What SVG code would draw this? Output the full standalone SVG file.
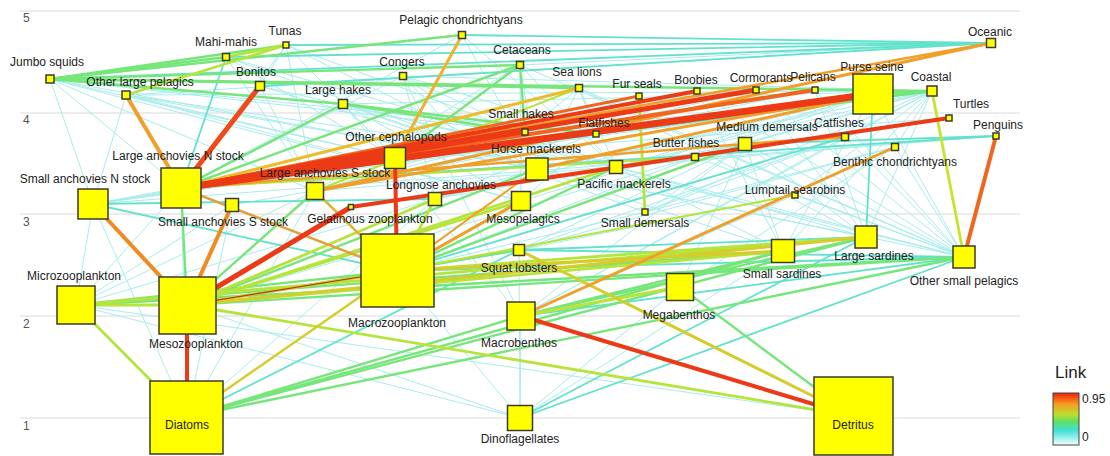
<svg xmlns="http://www.w3.org/2000/svg" width="1110" height="456" viewBox="0 0 1110 456">
<defs>
<linearGradient id="lg" x1="0" y1="0" x2="0" y2="1">
<stop offset="0" stop-color="#ee2010"/>
<stop offset="0.22" stop-color="#f6a020"/>
<stop offset="0.42" stop-color="#b8e030"/>
<stop offset="0.55" stop-color="#60e060"/>
<stop offset="0.72" stop-color="#40e0d8"/>
<stop offset="1" stop-color="#f4ffff"/>
</linearGradient>
<style>
.grid{stroke:#d9d9d9;stroke-width:1}
.ax{font-family:"Liberation Sans",Arial,sans-serif;font-size:12px;fill:#555}
#connectors line{stroke-linecap:round;fill:none}
.t{stroke:#a8ecec;stroke-width:1}
.a{stroke:#62e2cc;stroke-width:1.8}
.g{stroke:#76e67a;stroke-width:2.4}
.yg{stroke:#b6e43a;stroke-width:2.8}
.y{stroke:#d6cc2c;stroke-width:3}
.o{stroke:#f0a028;stroke-width:3}
.or{stroke:#f0661e;stroke-width:4}
.r{stroke:#ec3a16;stroke-width:5}
.n rect{fill:#ffff00;stroke:#3a3a2a;stroke-width:1.5}
.n text{font-family:"Liberation Sans",Arial,sans-serif;font-size:12px;fill:#222;text-anchor:middle}
</style>
</defs>
<rect width="1110" height="456" fill="#ffffff"/>
<g id="axis">
<line class="grid" x1="20" y1="11" x2="1020" y2="11"/>
<line class="grid" x1="20" y1="113" x2="1020" y2="113"/>
<line class="grid" x1="20" y1="214" x2="1020" y2="214"/>
<line class="grid" x1="20" y1="316" x2="1020" y2="316"/>
<line class="grid" x1="20" y1="418" x2="1020" y2="418"/>
<text class="ax" x="23" y="22">5</text>
<text class="ax" x="23" y="124">4</text>
<text class="ax" x="23" y="226">3</text>
<text class="ax" x="23" y="328">2</text>
<text class="ax" x="23" y="430">1</text>
</g>
<g id="connectors">
<g class="t">
<line x1="50" y1="79" x2="395" y2="158"/><line x1="50" y1="79" x2="181" y2="188"/><line x1="50" y1="79" x2="93" y2="204"/><line x1="50" y1="79" x2="315" y2="191"/><line x1="50" y1="79" x2="537" y2="169"/><line x1="50" y1="79" x2="521" y2="201"/><line x1="50" y1="79" x2="525" y2="132"/><line x1="50" y1="79" x2="596" y2="134"/>
<line x1="126" y1="95" x2="395" y2="158"/><line x1="126" y1="95" x2="537" y2="169"/><line x1="126" y1="95" x2="521" y2="201"/><line x1="126" y1="95" x2="616" y2="167"/><line x1="126" y1="95" x2="93" y2="204"/>
<line x1="226" y1="57" x2="395" y2="158"/><line x1="226" y1="57" x2="537" y2="169"/><line x1="226" y1="57" x2="616" y2="167"/><line x1="226" y1="57" x2="315" y2="191"/>
<line x1="286" y1="45" x2="181" y2="188"/><line x1="286" y1="45" x2="395" y2="158"/><line x1="286" y1="45" x2="537" y2="169"/><line x1="286" y1="45" x2="616" y2="167"/><line x1="286" y1="45" x2="315" y2="191"/><line x1="286" y1="45" x2="260" y2="86"/>
<line x1="260" y1="86" x2="315" y2="191"/><line x1="260" y1="86" x2="537" y2="169"/><line x1="260" y1="86" x2="616" y2="167"/>
<line x1="343" y1="104" x2="537" y2="169"/><line x1="343" y1="104" x2="521" y2="201"/><line x1="343" y1="104" x2="435" y2="199"/><line x1="343" y1="104" x2="645" y2="212"/><line x1="343" y1="104" x2="521" y2="316"/>
<line x1="403" y1="76" x2="525" y2="132"/><line x1="403" y1="76" x2="181" y2="188"/><line x1="403" y1="76" x2="521" y2="201"/><line x1="403" y1="76" x2="435" y2="199"/><line x1="403" y1="76" x2="596" y2="134"/><line x1="403" y1="76" x2="537" y2="169"/><line x1="403" y1="76" x2="521" y2="316"/>
<line x1="462" y1="35" x2="181" y2="188"/><line x1="462" y1="35" x2="537" y2="169"/><line x1="462" y1="35" x2="616" y2="167"/>
<line x1="520" y1="65" x2="537" y2="169"/><line x1="520" y1="65" x2="521" y2="201"/><line x1="520" y1="65" x2="616" y2="167"/><line x1="520" y1="65" x2="315" y2="191"/>
<line x1="579" y1="88" x2="537" y2="169"/><line x1="579" y1="88" x2="525" y2="132"/><line x1="579" y1="88" x2="616" y2="167"/><line x1="579" y1="88" x2="315" y2="191"/><line x1="579" y1="88" x2="596" y2="134"/>
<line x1="639" y1="96" x2="521" y2="201"/><line x1="639" y1="96" x2="315" y2="191"/>
<line x1="697" y1="91" x2="315" y2="191"/><line x1="697" y1="91" x2="435" y2="199"/><line x1="697" y1="91" x2="93" y2="204"/>
<line x1="756" y1="90" x2="315" y2="191"/><line x1="756" y1="90" x2="93" y2="204"/><line x1="756" y1="90" x2="525" y2="132"/>
<line x1="815" y1="90" x2="315" y2="191"/><line x1="815" y1="90" x2="93" y2="204"/>
<line x1="873" y1="94" x2="93" y2="204"/><line x1="873" y1="94" x2="232" y2="205"/><line x1="873" y1="94" x2="616" y2="167"/><line x1="873" y1="94" x2="783" y2="251"/><line x1="873" y1="94" x2="964" y2="257"/><line x1="873" y1="94" x2="521" y2="201"/><line x1="873" y1="94" x2="435" y2="199"/><line x1="873" y1="94" x2="695" y2="157"/>
<line x1="991" y1="43" x2="126" y2="95"/><line x1="991" y1="43" x2="520" y2="65"/>
<line x1="932" y1="91" x2="343" y2="104"/><line x1="932" y1="91" x2="537" y2="169"/><line x1="932" y1="91" x2="616" y2="167"/><line x1="932" y1="91" x2="596" y2="134"/><line x1="932" y1="91" x2="845" y2="137"/><line x1="932" y1="91" x2="745" y2="144"/><line x1="932" y1="91" x2="695" y2="157"/><line x1="932" y1="91" x2="866" y2="237"/><line x1="932" y1="91" x2="783" y2="251"/><line x1="932" y1="91" x2="525" y2="132"/><line x1="932" y1="91" x2="895" y2="147"/><line x1="932" y1="91" x2="795" y2="195"/><line x1="932" y1="91" x2="93" y2="204"/><line x1="932" y1="91" x2="126" y2="95"/><line x1="932" y1="91" x2="403" y2="76"/><line x1="932" y1="91" x2="645" y2="212"/><line x1="932" y1="91" x2="521" y2="316"/>
<line x1="949" y1="118" x2="395" y2="158"/><line x1="996" y1="136" x2="315" y2="191"/><line x1="996" y1="136" x2="93" y2="204"/>
<line x1="745" y1="144" x2="645" y2="212"/><line x1="745" y1="144" x2="521" y2="316"/><line x1="745" y1="144" x2="435" y2="199"/><line x1="745" y1="144" x2="680" y2="287"/><line x1="745" y1="144" x2="519" y2="250"/>
<line x1="845" y1="137" x2="521" y2="316"/><line x1="845" y1="137" x2="519" y2="250"/><line x1="845" y1="137" x2="645" y2="212"/>
<line x1="695" y1="157" x2="397" y2="271"/><line x1="695" y1="157" x2="187" y2="305"/><line x1="537" y1="169" x2="76" y2="305"/>
<line x1="895" y1="147" x2="680" y2="287"/><line x1="895" y1="147" x2="519" y2="250"/><line x1="895" y1="147" x2="645" y2="212"/>
<line x1="181" y1="188" x2="76" y2="305"/><line x1="181" y1="188" x2="187" y2="417"/><line x1="93" y1="204" x2="76" y2="305"/><line x1="93" y1="204" x2="187" y2="417"/>
<line x1="315" y1="191" x2="76" y2="305"/><line x1="315" y1="191" x2="187" y2="417"/><line x1="232" y1="205" x2="76" y2="305"/><line x1="232" y1="205" x2="187" y2="417"/>
<line x1="435" y1="199" x2="187" y2="417"/><line x1="521" y1="201" x2="187" y2="305"/><line x1="616" y1="167" x2="187" y2="305"/><line x1="645" y1="212" x2="397" y2="271"/>
<line x1="795" y1="195" x2="521" y2="316"/><line x1="795" y1="195" x2="519" y2="250"/>
<line x1="519" y1="250" x2="520" y2="418"/><line x1="783" y1="251" x2="520" y2="418"/><line x1="783" y1="251" x2="76" y2="305"/><line x1="866" y1="237" x2="76" y2="305"/>
<line x1="964" y1="257" x2="187" y2="417"/><line x1="76" y1="305" x2="520" y2="418"/><line x1="187" y1="305" x2="520" y2="418"/><line x1="397" y1="271" x2="520" y2="418"/><line x1="397" y1="271" x2="187" y2="417"/>
<line x1="680" y1="287" x2="187" y2="417"/><line x1="680" y1="287" x2="520" y2="418"/><line x1="521" y1="316" x2="520" y2="418"/><line x1="521" y1="316" x2="187" y2="417"/>
<line x1="76" y1="305" x2="853" y2="416"/>
<line x1="964" y1="257" x2="745" y2="144"/><line x1="964" y1="257" x2="845" y2="137"/><line x1="964" y1="257" x2="537" y2="169"/><line x1="964" y1="257" x2="343" y2="104"/><line x1="964" y1="257" x2="520" y2="65"/><line x1="964" y1="257" x2="579" y2="88"/><line x1="964" y1="257" x2="697" y2="91"/><line x1="964" y1="257" x2="756" y2="90"/><line x1="964" y1="257" x2="815" y2="90"/><line x1="964" y1="257" x2="895" y2="147"/><line x1="964" y1="257" x2="695" y2="157"/><line x1="964" y1="257" x2="616" y2="167"/><line x1="964" y1="257" x2="795" y2="195"/>
<line x1="866" y1="237" x2="745" y2="144"/><line x1="866" y1="237" x2="537" y2="169"/><line x1="866" y1="237" x2="579" y2="88"/><line x1="866" y1="237" x2="756" y2="90"/><line x1="866" y1="237" x2="815" y2="90"/><line x1="866" y1="237" x2="616" y2="167"/>
<line x1="783" y1="251" x2="745" y2="144"/><line x1="783" y1="251" x2="537" y2="169"/><line x1="783" y1="251" x2="697" y2="91"/><line x1="783" y1="251" x2="616" y2="167"/>
</g>
<g class="a">
<line x1="991" y1="43" x2="286" y2="45"/><line x1="991" y1="43" x2="226" y2="57"/><line x1="991" y1="43" x2="462" y2="35"/><line x1="991" y1="43" x2="50" y2="79"/><line x1="991" y1="43" x2="260" y2="86"/>
<line x1="996" y1="136" x2="181" y2="188"/><line x1="520" y1="418" x2="964" y2="257"/><line x1="520" y1="418" x2="866" y2="237"/>
<line x1="187" y1="417" x2="519" y2="250"/><line x1="397" y1="271" x2="964" y2="257"/><line x1="397" y1="271" x2="519" y2="250"/>
<line x1="873" y1="94" x2="866" y2="237"/><line x1="964" y1="257" x2="76" y2="305"/><line x1="93" y1="204" x2="397" y2="271"/><line x1="93" y1="204" x2="435" y2="199"/>
<line x1="845" y1="137" x2="397" y2="271"/><line x1="964" y1="257" x2="521" y2="316"/><line x1="964" y1="257" x2="519" y2="250"/><line x1="866" y1="237" x2="519" y2="250"/>
<line x1="226" y1="57" x2="181" y2="188"/><line x1="996" y1="136" x2="745" y2="144"/><line x1="932" y1="91" x2="181" y2="188"/>
</g>
<g class="g">
<line x1="50" y1="79" x2="286" y2="45"/><line x1="50" y1="79" x2="226" y2="57"/><line x1="50" y1="79" x2="520" y2="65"/><line x1="50" y1="79" x2="462" y2="35"/><line x1="50" y1="79" x2="579" y2="88"/><line x1="50" y1="79" x2="343" y2="104"/>
<line x1="932" y1="91" x2="50" y2="79"/><line x1="520" y1="65" x2="395" y2="158"/><line x1="520" y1="65" x2="525" y2="132"/><line x1="520" y1="65" x2="181" y2="188"/>
<line x1="343" y1="104" x2="525" y2="132"/><line x1="343" y1="104" x2="181" y2="188"/><line x1="343" y1="104" x2="596" y2="134"/>
<line x1="932" y1="91" x2="395" y2="158"/><line x1="932" y1="91" x2="873" y2="94"/><line x1="181" y1="188" x2="187" y2="305"/>
<line x1="76" y1="305" x2="397" y2="271"/><line x1="76" y1="305" x2="783" y2="251"/><line x1="76" y1="305" x2="964" y2="257"/>
<line x1="187" y1="417" x2="521" y2="316"/><line x1="187" y1="417" x2="783" y2="251"/><line x1="187" y1="417" x2="866" y2="237"/><line x1="187" y1="417" x2="964" y2="257"/>
<line x1="680" y1="287" x2="853" y2="416"/><line x1="397" y1="271" x2="521" y2="201"/><line x1="187" y1="305" x2="519" y2="250"/>
<line x1="315" y1="191" x2="187" y2="305"/><line x1="537" y1="169" x2="187" y2="305"/><line x1="866" y1="237" x2="521" y2="316"/><line x1="783" y1="251" x2="521" y2="316"/>
<line x1="616" y1="167" x2="397" y2="271"/><line x1="397" y1="271" x2="745" y2="144"/><line x1="187" y1="305" x2="964" y2="257"/>
</g>
<g class="yg">
<line x1="126" y1="95" x2="286" y2="45"/><line x1="226" y1="57" x2="286" y2="45"/><line x1="639" y1="96" x2="645" y2="212"/>
<line x1="932" y1="91" x2="964" y2="257" style="stroke:#c6e42a"/><line x1="76" y1="305" x2="187" y2="417"/><line x1="187" y1="305" x2="853" y2="416"/>
<line x1="187" y1="305" x2="783" y2="251"/><line x1="187" y1="305" x2="521" y2="201"/><line x1="187" y1="305" x2="435" y2="199"/><line x1="187" y1="305" x2="616" y2="167"/>
<line x1="76" y1="305" x2="187" y2="305"/><line x1="76" y1="305" x2="866" y2="237"/><line x1="397" y1="271" x2="866" y2="237"/><line x1="397" y1="271" x2="435" y2="199"/>
<line x1="315" y1="191" x2="579" y2="88" style="stroke-width:2"/><line x1="181" y1="188" x2="695" y2="157" style="stroke-width:2"/><line x1="397" y1="271" x2="795" y2="195" style="stroke-width:2"/><line x1="521" y1="316" x2="680" y2="287"/>
</g>
<g class="y">
<line x1="519" y1="250" x2="853" y2="416"/><line x1="187" y1="417" x2="397" y2="271" style="stroke-width:2.5"/><line x1="187" y1="305" x2="397" y2="271"/><line x1="315" y1="191" x2="397" y2="271" style="stroke-width:2.5;stroke:#dcb43a"/>
<line x1="187" y1="305" x2="866" y2="237"/><line x1="397" y1="271" x2="783" y2="251"/>
</g>
<g class="o">
<line x1="462" y1="35" x2="395" y2="158" style="stroke:#f0b030"/><line x1="991" y1="43" x2="315" y2="191"/><line x1="181" y1="188" x2="579" y2="88" style="stroke:#ecbc2c"/>
<line x1="181" y1="188" x2="745" y2="144" style="stroke-width:2.5"/><line x1="181" y1="188" x2="397" y2="271" style="stroke:#e0a040;stroke-width:2.5"/>
<line x1="126" y1="95" x2="181" y2="188" style="stroke-width:4"/><line x1="93" y1="204" x2="187" y2="305" style="stroke:#ee8c22;stroke-width:4"/><line x1="232" y1="205" x2="187" y2="305" style="stroke:#ee8c22;stroke-width:4"/>
<line x1="895" y1="147" x2="521" y2="316"/><line x1="745" y1="144" x2="845" y2="137"/><line x1="521" y1="201" x2="397" y2="271"/><line x1="537" y1="169" x2="397" y2="271" style="stroke-width:2"/>
<line x1="537" y1="169" x2="873" y2="94"/><line x1="315" y1="191" x2="873" y2="94"/><line x1="181" y1="188" x2="991" y2="43" style="stroke-width:2.5"/>
</g>
<line x1="187" y1="305" x2="397" y2="271" style="stroke:#b03a18;stroke-width:1.2"/>
<g class="or">
<line x1="181" y1="188" x2="815" y2="90"/><line x1="181" y1="188" x2="639" y2="96" style="stroke-width:3"/><line x1="181" y1="188" x2="260" y2="86" style="stroke-width:5;stroke:#f04a1a"/><line x1="996" y1="136" x2="964" y2="257"/>
</g>
<g class="r">
<line x1="181" y1="188" x2="873" y2="94" style="stroke-width:7"/><line x1="181" y1="188" x2="756" y2="90"/><line x1="181" y1="188" x2="697" y2="91" style="stroke-width:4"/>
<line x1="181" y1="188" x2="395" y2="158" style="stroke-width:6"/><line x1="181" y1="188" x2="525" y2="132" style="stroke-width:4"/>
<line x1="395" y1="158" x2="397" y2="271" style="stroke-width:4"/><line x1="351" y1="207" x2="949" y2="118" style="stroke-width:4"/><line x1="351" y1="207" x2="187" y2="305"/>
<line x1="187" y1="305" x2="187" y2="417" style="stroke-width:4"/><line x1="521" y1="316" x2="853" y2="416" style="stroke-width:4"/>
</g>
</g>
<g id="nodes" class="n">
<g id="n-jumbo"><rect x="46" y="75" width="8" height="8"/><text x="47" y="66">Jumbo squids</text></g>
<g id="n-mahi"><rect x="222.5" y="53.5" width="7" height="7"/><text x="226" y="46">Mahi-mahis</text></g>
<g id="n-tunas"><rect x="283" y="42" width="6" height="6"/><text x="285" y="35">Tunas</text></g>
<g id="n-olp"><rect x="122" y="91" width="8" height="8"/><text x="140" y="86">Other large pelagics</text></g>
<g id="n-bonitos"><rect x="255.5" y="81.5" width="9" height="9"/><text x="256" y="76">Bonitos</text></g>
<g id="n-lhakes"><rect x="338.5" y="99.5" width="9" height="9"/><text x="338" y="94">Large hakes</text></g>
<g id="n-pchond"><rect x="458.5" y="31.5" width="7" height="7"/><text x="461" y="24">Pelagic chondrichtyans</text></g>
<g id="n-congers"><rect x="399.5" y="72.5" width="7" height="7"/><text x="402" y="66">Congers</text></g>
<g id="n-cetaceans"><rect x="516.5" y="61.5" width="7" height="7"/><text x="522" y="54">Cetaceans</text></g>
<g id="n-sealions"><rect x="575.5" y="84.5" width="7" height="7"/><text x="577" y="76">Sea lions</text></g>
<g id="n-furseals"><rect x="636" y="93" width="6" height="6"/><text x="637" y="88">Fur seals</text></g>
<g id="n-boobies"><rect x="694" y="88" width="6" height="6"/><text x="696" y="84">Boobies</text></g>
<g id="n-cormorants"><rect x="753" y="87" width="6" height="6"/><text x="761" y="82">Cormorants</text></g>
<g id="n-pelicans"><rect x="812" y="87" width="6" height="6"/><text x="813" y="81">Pelicans</text></g>
<g id="n-purse"><rect x="853" y="74" width="40" height="40"/><text x="872" y="71">Purse seine</text></g>
<g id="n-oceanic"><rect x="986.5" y="38.5" width="9" height="9"/><text x="990" y="36">Oceanic</text></g>
<g id="n-coastal"><rect x="927" y="86" width="10" height="10"/><text x="931" y="81">Coastal</text></g>
<g id="n-turtles"><rect x="946" y="115" width="6" height="6"/><text x="971" y="108">Turtles</text></g>
<g id="n-penguins"><rect x="993" y="133" width="6" height="6"/><text x="998" y="129">Penguins</text></g>
<g id="n-shakes"><rect x="522" y="129" width="6" height="6"/><text x="521" y="118">Small hakes</text></g>
<g id="n-flat"><rect x="593" y="131" width="6" height="6"/><text x="604" y="127">Flatfishes</text></g>
<g id="n-ocephal"><rect x="384.5" y="147.5" width="21" height="21"/><text x="396" y="141">Other cephalopods</text></g>
<g id="n-mdem"><rect x="738.5" y="137.5" width="13" height="13"/><text x="767" y="131">Medium demersals</text></g>
<g id="n-catfish"><rect x="841.5" y="133.5" width="7" height="7"/><text x="839" y="127">Catfishes</text></g>
<g id="n-butter"><rect x="691.5" y="153.5" width="7" height="7"/><text x="686" y="147">Butter fishes</text></g>
<g id="n-horse"><rect x="526" y="158" width="22" height="22"/><text x="536" y="153">Horse mackerels</text></g>
<g id="n-bchond"><rect x="891.5" y="143.5" width="7" height="7"/><text x="895" y="166">Benthic chondrichtyans</text></g>
<g id="n-lan"><rect x="161" y="168" width="40" height="40"/><text x="178" y="160">Large anchovies N stock</text></g>
<g id="n-san"><rect x="78" y="189" width="30" height="30"/><text x="85" y="183">Small anchovies N stock</text></g>
<g id="n-las"><rect x="306.5" y="182.5" width="17" height="17"/><text x="325" y="177">Large anchovies S stock</text></g>
<g id="n-sas"><rect x="225.5" y="198.5" width="13" height="13"/><text x="223" y="226">Small anchovies S stock</text></g>
<g id="n-gel"><rect x="348.5" y="204.5" width="5" height="5"/><text x="370" y="223">Gelatinous zooplankton</text></g>
<g id="n-longnose"><rect x="428.5" y="192.5" width="13" height="13"/><text x="441" y="189">Longnose anchovies</text></g>
<g id="n-meso"><rect x="511.5" y="191.5" width="19" height="19"/><text x="523" y="223">Mesopelagics</text></g>
<g id="n-pmack"><rect x="609.5" y="160.5" width="13" height="13"/><text x="624" y="188">Pacific mackerels</text></g>
<g id="n-sdem"><rect x="642" y="209" width="6" height="6"/><text x="645" y="227">Small demersals</text></g>
<g id="n-lumptail"><rect x="792" y="192" width="6" height="6"/><text x="795" y="194">Lumptail searobins</text></g>
<g id="n-squat"><rect x="513.5" y="244.5" width="11" height="11"/><text x="519" y="272">Squat lobsters</text></g>
<g id="n-macrozoo"><rect x="361" y="234" width="73" height="73"/><text x="397" y="327">Macrozooplankton</text></g>
<g id="n-ssard"><rect x="771.5" y="239.5" width="23" height="23"/><text x="782" y="278">Small sardines</text></g>
<g id="n-lsard"><rect x="855" y="226" width="22" height="22"/><text x="874" y="260">Large sardines</text></g>
<g id="n-osp"><rect x="953" y="246" width="22" height="22"/><text x="964" y="285">Other small pelagics</text></g>
<g id="n-microzoo"><rect x="57" y="286" width="38" height="38"/><text x="74" y="280">Microzooplankton</text></g>
<g id="n-mesozoo"><rect x="159" y="277" width="57" height="57"/><text x="196" y="348">Mesozooplankton</text></g>
<g id="n-megab"><rect x="666.5" y="273.5" width="27" height="27"/><text x="679" y="319">Megabenthos</text></g>
<g id="n-macrob"><rect x="507" y="302" width="28" height="28"/><text x="519" y="347">Macrobenthos</text></g>
<g id="n-diatoms"><rect x="150" y="381" width="73" height="73"/><text x="187" y="429">Diatoms</text></g>
<g id="n-dino"><rect x="507.5" y="405.5" width="25" height="25"/><text x="520" y="443">Dinoflagellates</text></g>
<g id="n-detritus"><rect x="814" y="377" width="79" height="78"/><text x="853" y="429">Detritus</text></g>
</g>
<g id="legend" font-family="Liberation Sans, Arial, sans-serif" fill="#222">
<text x="1055" y="378" font-size="17">Link</text>
<rect x="1053" y="393" width="26" height="52" fill="url(#lg)" stroke="#444" stroke-width="1"/>
<text x="1082" y="403" font-size="12">0.95</text>
<text x="1082" y="441" font-size="12">0</text>
</g>
</svg>
